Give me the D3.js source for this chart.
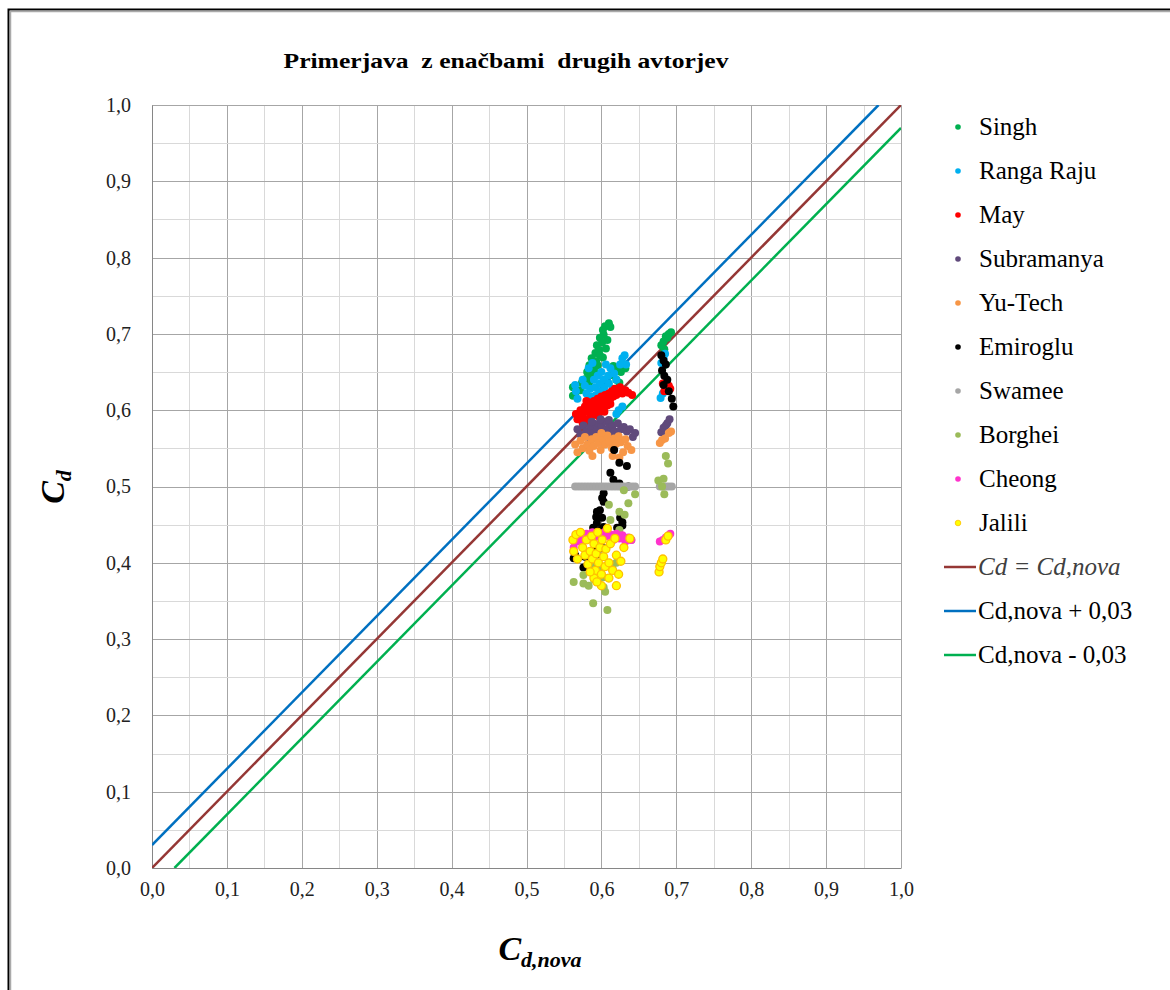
<!DOCTYPE html>
<html>
<head>
<meta charset="utf-8">
<script src="https://cdn.jsdelivr.net/npm/d3@7"></script>
<style>
  body { margin: 0; background: #fff; }
  svg { display: block; font-family: "Liberation Serif", "DejaVu Serif", serif; }
</style>
</head>
<body>
<svg id="chart"></svg>
<script>
var screen = {width: 1170, height: 990}
var margins = {top: 105, right: 269, bottom: 122, left: 152}

var xTicks = [0, 0.1, 0.2, 0.3, 0.4, 0.5, 0.6, 0.7, 0.8, 0.9, 1.0]
var yTicks = [0, 0.1, 0.2, 0.3, 0.4, 0.5, 0.6, 0.7, 0.8, 0.9, 1.0]
var gridStep = 0.05

var seriesNames = ["Singh", "Ranga Raju", "May", "Subramanya", "Yu-Tech", "Emiroglu", "Swamee", "Borghei", "Cheong", "Jalili"]
var seriesColors = ["#00b050", "#00b0f0", "#ff0000", "#604a7b", "#f79646", "#000000", "#a6a6a6", "#9bbb59", "#ff33cc", "#ffff00"]

// [Cd,nova , Cd]
var singh = [[0.610,0.714],[0.605,0.710],[0.602,0.705],[0.603,0.699],[0.598,0.695],[0.601,0.689],[0.594,0.685],[0.597,0.679],
  [0.592,0.675],[0.598,0.672],[0.587,0.668],[0.593,0.664],[0.584,0.659],[0.589,0.655],[0.581,0.650],[0.586,0.646],[0.579,0.641],
  [0.584,0.637],[0.574,0.636],[0.562,0.630],[0.562,0.619],[0.566,0.624],[0.572,0.626],[0.612,0.709],[0.608,0.692],[0.606,0.681],
  [0.616,0.658],[0.621,0.653],[0.626,0.650],[0.620,0.640],[0.624,0.636],[0.614,0.646],[0.632,0.655],[0.595,0.659],[0.591,0.650],
  [0.602,0.669],[0.683,0.690],[0.686,0.697],[0.690,0.700],[0.693,0.702],[0.688,0.695],[0.680,0.685],[0.684,0.680]]
var rangaRaju = [[0.565,0.633],[0.566,0.625],[0.568,0.615],[0.575,0.640],[0.578,0.632],[0.580,0.622],[0.582,0.612],[0.585,0.628],
  [0.587,0.618],[0.590,0.640],[0.590,0.608],[0.592,0.630],[0.593,0.620],[0.595,0.645],[0.596,0.612],[0.598,0.635],[0.598,0.625],
  [0.600,0.650],[0.601,0.617],[0.603,0.640],[0.604,0.630],[0.606,0.660],[0.607,0.622],[0.609,0.645],[0.610,0.635],[0.612,0.655],
  [0.615,0.628],[0.617,0.648],[0.620,0.640],[0.623,0.600],[0.625,0.660],[0.628,0.668],[0.631,0.672],[0.633,0.660],[0.620,0.595],
  [0.628,0.605],[0.583,0.655],[0.588,0.662],[0.575,0.600],[0.680,0.662],[0.683,0.668],[0.685,0.674],[0.679,0.616],[0.682,0.622]]
var may = [[0.566,0.595],[0.568,0.588],[0.572,0.600],[0.575,0.592],[0.578,0.605],[0.580,0.598],[0.582,0.588],[0.584,0.610],
  [0.586,0.602],[0.588,0.595],[0.590,0.612],[0.592,0.605],[0.593,0.598],[0.595,0.615],[0.597,0.608],[0.598,0.600],[0.600,0.618],
  [0.602,0.610],[0.603,0.603],[0.605,0.620],[0.607,0.613],[0.608,0.606],[0.610,0.622],[0.612,0.615],[0.614,0.625],[0.616,0.618],
  [0.618,0.628],[0.620,0.620],[0.622,0.625],[0.625,0.630],[0.628,0.622],[0.632,0.626],[0.636,0.623],[0.641,0.620],[0.585,0.590],
  [0.596,0.592],[0.604,0.598],[0.612,0.608],[0.575,0.583],[0.580,0.612],[0.682,0.635],[0.686,0.630],[0.690,0.632],[0.684,0.625],[0.692,0.628]]
var subramanya = [[0.568,0.575],[0.572,0.568],[0.576,0.580],[0.580,0.572],[0.583,0.565],[0.586,0.578],[0.589,0.570],[0.592,0.582],
  [0.595,0.574],[0.597,0.566],[0.600,0.580],[0.603,0.572],[0.606,0.585],[0.609,0.576],[0.612,0.568],[0.615,0.580],[0.618,0.572],
  [0.622,0.583],[0.626,0.575],[0.630,0.578],[0.634,0.572],[0.638,0.575],[0.642,0.565],[0.645,0.570],[0.587,0.585],[0.599,0.588],
  [0.610,0.587],[0.680,0.571],[0.683,0.577],[0.688,0.583],[0.691,0.588],[0.686,0.580]]
var yuTech = [[0.565,0.555],[0.568,0.545],[0.572,0.560],[0.575,0.550],[0.578,0.565],[0.581,0.555],[0.584,0.547],[0.587,0.562],
  [0.590,0.553],[0.593,0.565],[0.596,0.557],[0.599,0.548],[0.602,0.562],[0.605,0.555],[0.608,0.567],[0.611,0.558],[0.614,0.550],
  [0.617,0.563],[0.620,0.556],[0.623,0.566],[0.626,0.558],[0.629,0.545],[0.632,0.562],[0.635,0.553],[0.640,0.548],[0.588,0.540],
  [0.600,0.570],[0.615,0.540],[0.624,0.538],[0.678,0.557],[0.681,0.561],[0.685,0.563],[0.690,0.570],[0.693,0.572]]
var emiroglu = [[0.617,0.548],[0.624,0.531],[0.634,0.527],[0.612,0.518],[0.616,0.509],[0.624,0.504],[0.636,0.500],[0.603,0.491],
  [0.601,0.485],[0.603,0.480],[0.598,0.469],[0.594,0.467],[0.593,0.460],[0.601,0.459],[0.594,0.452],[0.625,0.459],[0.628,0.453],
  [0.628,0.449],[0.589,0.446],[0.598,0.443],[0.603,0.447],[0.621,0.446],[0.565,0.410],[0.563,0.406],[0.578,0.408],[0.603,0.419],
  [0.576,0.394],[0.594,0.411],[0.584,0.405],[0.592,0.416],[0.680,0.672],[0.683,0.665],[0.686,0.660],[0.681,0.652],[0.684,0.645],
  [0.688,0.640],[0.683,0.633],[0.690,0.625],[0.694,0.615],[0.696,0.605]]
var swamee = [[0.565,0.5],[0.569,0.5],[0.573,0.5],[0.577,0.5],[0.581,0.5],[0.585,0.5],[0.589,0.5],[0.593,0.5],[0.597,0.5],
  [0.601,0.5],[0.605,0.5],[0.609,0.5],[0.613,0.5],[0.617,0.5],[0.621,0.5],[0.625,0.5],[0.629,0.5],[0.633,0.5],[0.637,0.5],
  [0.641,0.5],[0.645,0.5],[0.678,0.5],[0.682,0.5],[0.686,0.5],[0.690,0.5],[0.694,0.5]]
var borghei = [[0.676,0.508],[0.630,0.495],[0.636,0.478],[0.610,0.476],[0.624,0.467],[0.631,0.463],[0.612,0.456],[0.624,0.443],
  [0.640,0.430],[0.563,0.375],[0.576,0.384],[0.576,0.373],[0.583,0.370],[0.590,0.378],[0.603,0.381],[0.603,0.368],[0.605,0.362],
  [0.589,0.347],[0.608,0.338],[0.615,0.392],[0.598,0.393],[0.588,0.395],[0.620,0.400],[0.645,0.490],[0.686,0.540],[0.689,0.530],
  [0.683,0.510],[0.681,0.500],[0.684,0.490]]
var cheong = [[0.563,0.420],[0.568,0.428],[0.572,0.435],[0.576,0.430],[0.580,0.438],[0.584,0.432],[0.588,0.440],[0.592,0.434],
  [0.596,0.438],[0.600,0.430],[0.604,0.440],[0.608,0.435],[0.612,0.437],[0.616,0.430],[0.620,0.438],[0.624,0.432],[0.628,0.436],
  [0.632,0.428],[0.636,0.433],[0.640,0.430],[0.678,0.428],[0.682,0.430],[0.686,0.433],[0.690,0.436],[0.692,0.438]]
var jalili = [[0.562,0.430],[0.563,0.415],[0.566,0.437],[0.568,0.405],[0.572,0.440],[0.575,0.420],[0.578,0.410],[0.580,0.430],
  [0.582,0.398],[0.585,0.415],[0.587,0.435],[0.588,0.405],[0.590,0.425],[0.592,0.390],[0.593,0.412],[0.595,0.440],[0.596,0.400],
  [0.598,0.420],[0.600,0.385],[0.601,0.430],[0.603,0.408],[0.605,0.395],[0.606,0.418],[0.608,0.445],[0.610,0.400],[0.612,0.425],
  [0.615,0.390],[0.618,0.432],[0.620,0.410],[0.623,0.385],[0.626,0.402],[0.630,0.420],[0.638,0.432],[0.620,0.370],[0.600,0.370],
  [0.590,0.380],[0.585,0.388],[0.594,0.375],[0.610,0.380],[0.677,0.388],[0.678,0.395],[0.680,0.400],[0.682,0.405],[0.686,0.430],[0.689,0.435]]
var seriesData = [singh, rangaRaju, may, subramanya, yuTech, emiroglu, swamee, borghei, cheong, jalili]

var lineNames = ["Cd = Cd,nova", "Cd,nova + 0,03", "Cd,nova - 0,03"]
var lineColors = ["#953735", "#0070c0", "#00b050"]
var lineOffsets = [0, 0.03, -0.03]

var svg = d3.select("#chart").attr("width", screen.width).attr("height", screen.height)

// outer frame (only left/top edges fall inside the picture)
svg.append("rect").attr("x", 8.5).attr("y", 9.5).attr("width", 1200).attr("height", 1100)
    .attr("fill", "none").attr("stroke", "#000").attr("stroke-width", 2)
svg.append("rect").attr("x", 10.5).attr("y", 11.5).attr("width", 1200).attr("height", 1100)
    .attr("fill", "none").attr("stroke", "#aaa").attr("stroke-width", 1.5)

var width = screen.width - margins.left - margins.right
var height = screen.height - margins.top - margins.bottom

var xScale = d3.scaleLinear().domain([0, 1]).range([0, width])
var yScale = d3.scaleLinear().domain([0, 1]).range([height, 0])

var g = svg.append("g").attr("transform", "translate(" + margins.left + "," + margins.top + ")")

var fmt = function(v) { return d3.format(".1f")(v).replace(".", ",") }

// grid
var gridVals = d3.range(0, 1.0001, gridStep)
g.selectAll(".vgrid").data(gridVals).enter().append("line")
    .attr("x1", function(d) { return Math.round(xScale(d)) + 0.5 })
    .attr("x2", function(d) { return Math.round(xScale(d)) + 0.5 })
    .attr("y1", 0).attr("y2", height)
    .attr("stroke", function(d, i) { return i % 2 == 0 ? "#a6a6a6" : "#d9d9d9" })
g.selectAll(".hgrid").data(gridVals).enter().append("line")
    .attr("y1", function(d) { return Math.round(yScale(d)) + 0.5 })
    .attr("y2", function(d) { return Math.round(yScale(d)) + 0.5 })
    .attr("x1", 0).attr("x2", width)
    .attr("stroke", function(d, i) { return i % 2 == 0 ? "#a6a6a6" : "#d9d9d9" })

// axes
var xAxis = d3.axisBottom(xScale).tickValues(xTicks).tickFormat(fmt).tickSize(0).tickPadding(14)
var yAxis = d3.axisLeft(yScale).tickValues(yTicks).tickFormat(fmt).tickSize(0).tickPadding(21)
g.append("g").attr("transform", "translate(0," + height + ")").call(xAxis)
    .call(function(a) { a.select(".domain").attr("stroke", "#868686") })
g.append("g").call(yAxis)
    .call(function(a) { a.select(".domain").attr("stroke", "#868686") })
g.selectAll(".tick text").attr("font-size", 20).attr("fill", "#222")
    .style("font-family", "'Liberation Serif', serif")

// reference lines, clipped to plot
svg.append("clipPath").attr("id", "clip").append("rect").attr("width", width).attr("height", height)
var lineGen = d3.line().x(function(d) { return xScale(d[0]) }).y(function(d) { return yScale(d[1]) })
var plot = g.append("g").attr("clip-path", "url(#clip)")
lineOffsets.forEach(function(off, i) {
    var x0 = Math.max(0, -off), x1 = Math.min(1, 1 - off)
    plot.append("path")
        .attr("d", lineGen([[x0, x0 + off], [x1, x1 + off]]))
        .attr("fill", "none").attr("stroke", lineColors[i]).attr("stroke-width", 2.5)
})

// points
seriesData.forEach(function(arr, i) {
    g.append("g").selectAll("circle").data(arr).enter().append("circle")
        .attr("cx", function(d) { return xScale(d[0]) })
        .attr("cy", function(d) { return yScale(d[1]) })
        .attr("r", 4)
        .attr("fill", seriesColors[i])
        .attr("stroke", i == 9 ? "#ffc000" : "none")
        .attr("stroke-width", 1.3)
})

// title
svg.append("text").attr("x", 506).attr("y", 68).attr("text-anchor", "middle")
    .attr("font-size", 22).attr("font-weight", "bold").style("white-space", "pre")
    .attr("textLength", 445).attr("lengthAdjust", "spacingAndGlyphs")
    .text("Primerjava  z enačbami  drugih avtorjev")

// axis titles
var yt = svg.append("text").attr("transform", "translate(64,487) rotate(-90)").attr("text-anchor", "middle")
    .attr("font-size", 34).attr("font-weight", "bold").attr("font-style", "italic")
yt.append("tspan").text("C")
yt.append("tspan").attr("font-size", 22).attr("dy", 7).text("d")

var xt = svg.append("text").attr("x", 540).attr("y", 960).attr("text-anchor", "middle")
    .attr("font-size", 34).attr("font-weight", "bold").attr("font-style", "italic")
xt.append("tspan").text("C")
xt.append("tspan").attr("font-size", 22).attr("dy", 7).text("d,nova")

// legend
var legend = svg.append("g").attr("transform", "translate(958,127)")
var rowH = 44
seriesNames.forEach(function(name, i) {
    var row = legend.append("g").attr("transform", "translate(0," + (i * rowH) + ")")
    row.append("circle").attr("r", 2.8).attr("fill", seriesColors[i])
        .attr("stroke", i == 9 ? "#ffc000" : "none").attr("stroke-width", 0.8)
    row.append("text").attr("x", 21).attr("y", 8).attr("font-size", 25).text(name)
})
lineNames.forEach(function(name, i) {
    var row = legend.append("g").attr("transform", "translate(0," + ((seriesNames.length + i) * rowH) + ")")
    row.append("line").attr("x1", -14).attr("x2", 18).attr("stroke", lineColors[i]).attr("stroke-width", 2.5)
    row.append("text").attr("x", 20).attr("y", 8).attr("font-size", 25)
        .attr("font-style", i == 0 ? "italic" : "normal").attr("fill", i == 0 ? "#404040" : "#000")
        .style("white-space", "pre").text(name)
})
</script>
</body>
</html>
